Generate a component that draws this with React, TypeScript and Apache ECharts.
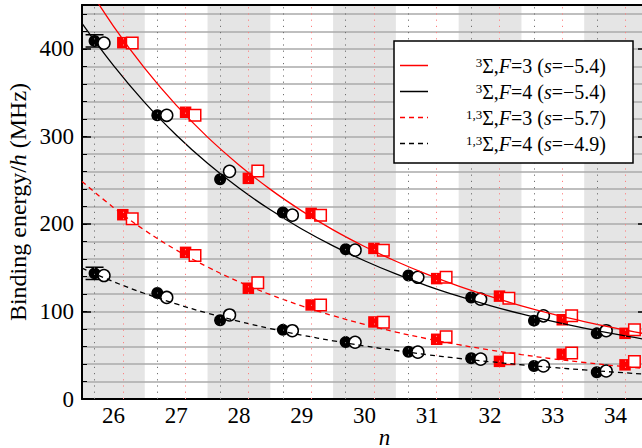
import React, { useEffect, useRef } from 'react';
import * as echarts from 'echarts';

// ---- data ----
const nValues = [26, 27, 28, 29, 30, 31, 32, 33, 34];

// 3Σ (upper group), binding energy / h in MHz
const tripletF4Filled = [409, 324, 251, 213, 171, 141, 116, 89.5, 75];
const tripletF4Open = [406.5, 324, 260, 210, 170, 139, 114, 95, 78];
const tripletF3Filled = [407, 327.5, 252, 212, 172, 137.5, 117.5, 90.5, 75];
const tripletF3Open = [406.5, 324, 260.5, 210, 170, 139, 115, 95, 79];

// 1,3Σ (lower group)
const mixedF4Filled = [143.5, 121, 90, 79, 65, 54, 46.5, 37.7, 30.5];
const mixedF4Open = [141, 116, 96, 78, 64.8, 53.5, 45.5, 37.7, 32];
const mixedF3Filled = [210.5, 167.5, 126.5, 107.4, 88, 68.2, 43, 51.2, 39];
const mixedF3Open = [206, 164, 132.8, 107.4, 87.6, 71.2, 46, 52.5, 42.7];

// marker positions relative to n
const offsetFilledCircle = -0.3;
const offsetOpenCircle = -0.15;
const offsetFilledSquare = 0.15;
const offsetOpenSquare = 0.3;

// fitted curves
const curveN = [25.5, 26, 26.5, 27, 27.5, 28, 28.5, 29, 29.5, 30, 30.5, 31, 31.5, 32, 32.5, 33, 33.5, 34, 34.5];
const fitTripletF3 = [481, 426, 377.6, 335.6, 299.1, 267.4, 239.4, 214.9, 193.2, 174.2, 157.3, 142.3, 128.9, 117.1, 106.5, 96.9, 88.5, 80.9, 74.0];
const fitTripletF4 = [429, 381, 338.5, 301.6, 269.2, 240.9, 216.1, 194.2, 174.9, 157.9, 142.8, 129.3, 117.4, 106.7, 97.1, 88.6, 80.9, 74.0, 67.8];
const fitMixedF3 = [248.5, 218.8, 192.7, 170.2, 150.8, 133.9, 119.2, 106.3, 95.1, 85.2, 76.5, 68.8, 62.0, 56.0, 50.7, 45.9, 41.7, 37.9, 34.5];
const fitMixedF4 = [149.5, 134.0, 120.5, 108.6, 98.0, 88.7, 80.4, 73.0, 66.5, 60.6, 55.4, 50.6, 46.4, 42.6, 39.1, 36.0, 33.2, 30.6, 28.3];

// error bars (on the filled circles at n = 26)
const errorBarN = [26, 26];
const errorBarLow = [402, 136.5];
const errorBarHigh = [416, 150.5];

const legendLabels = [
  '{sup|3}Σ,{i|F}=3 ({i|s}={m|−}5.4)',
  '{sup|3}Σ,{i|F}=4 ({i|s}={m|−}5.4)',
  '{sup|1,3}Σ,{i|F}=3 ({i|s}={m|−}5.7)',
  '{sup|1,3}Σ,{i|F}=4 ({i|s}={m|−}4.9)',
];

const FONT = "'Liberation Serif', 'Times New Roman', serif";
const RED = '#ff0000';

const zip = (xs: number[], ys: number[], off = 0) => xs.map((x, i) => [x + off, ys[i]]);

export default function App() {
  const ref = useRef<HTMLDivElement>(null);

  useEffect(() => {
    if (!ref.current) return;
    const chart = echarts.init(ref.current, undefined, { renderer: 'svg' });

    const curve = (name: string, ys: number[], color: string, dashed: boolean, extra: any = {}) => ({
      name,
      type: 'line',
      data: zip(curveN, ys),
      smooth: 0.4,
      symbol: 'none',
      showSymbol: false,
      lineStyle: { color, width: 1.3, type: dashed ? [5, 4] : 'solid' },
      silent: true,
      ...extra,
    });

    const scatter = (ys: number[], off: number, symbol: string, fill: string, border: string) => ({
      type: 'scatter',
      data: zip(nValues, ys, off),
      symbol,
      symbolSize: symbol === 'circle' ? 12 : 11.5,
      itemStyle: { color: fill, borderColor: border, borderWidth: fill === '#ffffff' ? 1.5 : 0, opacity: 1 },
      silent: true,
    });

    const legendRows = [
      { y: 65.5, color: RED, dashed: false },
      { y: 91.5, color: '#000', dashed: false },
      { y: 117.5, color: RED, dashed: true },
      { y: 143.5, color: '#000', dashed: true },
    ];

    const richLegend = {
      sup: { fontSize: 13, fontFamily: FONT, verticalAlign: 'top', fill: '#000', color: '#000' },
      i: { fontSize: 20, fontFamily: FONT, fontStyle: 'italic', fill: '#000', color: '#000' },
      m: { fontSize: 20, fontFamily: FONT, fill: '#000', color: '#000' },
    };

    const option: any = {
      animation: false,
      backgroundColor: '#ffffff',
      grid: { left: 82, top: 5, width: 565, height: 394, outerBoundsMode: 'none', containLabel: false },
      xAxis: [
        {
          type: 'value',
          position: 'bottom',
          min: 25.5,
          max: 34.5,
          splitNumber: 9,
          minInterval: 1,
          maxInterval: 1,
          axisLine: { show: true, onZero: false, lineStyle: { color: '#000', width: 2 } },
          axisTick: { show: false },
          axisLabel: {
            show: true,
            margin: 7.5,
            fontSize: 23,
            lineHeight: 18,
            fontFamily: FONT,
            color: '#000',
            formatter: (v: number) => (Number.isInteger(v) ? String(v) : ''),
          },
          splitLine: { show: false },
          name: 'n',
          nameLocation: 'middle',
          nameGap: 29,
          nameMoveOverlap: false,
          nameTextStyle: {
            fontSize: 23,
            lineHeight: 18,
            fontFamily: FONT,
            fontStyle: 'italic',
            color: '#000',
            padding: [0, 0, 0, 40],
          },
        },
        {
          type: 'value',
          position: 'top',
          min: 25.5,
          max: 34.5,
          axisLine: { show: true, onZero: false, lineStyle: { color: '#000', width: 2 } },
          axisTick: { show: false },
          axisLabel: { show: false },
          splitLine: { show: false },
        },
        {
          type: 'value',
          position: 'bottom',
          min: 25.5,
          max: 34.5,
          interval: 1,
          z: -1,
          axisLine: { show: false },
          axisTick: { show: false },
          axisLabel: { show: false },
          splitLine: { show: false },
          splitArea: { show: true, areaStyle: { color: ['#e5e5e5', 'rgba(255,255,255,0)'] } },
        },
      ],
      yAxis: [
        {
          type: 'value',
          position: 'left',
          min: 0,
          max: 450,
          interval: 20,
          axisLine: { show: true, onZero: false, lineStyle: { color: '#000', width: 2 } },
          axisTick: { show: true, inside: true, length: 5, lineStyle: { color: '#000', width: 1 } },
          axisLabel: { show: false },
          splitLine: { show: true, lineStyle: { color: '#aaaaaa', width: 1.5 } },
        },
        {
          type: 'value',
          position: 'left',
          min: 0,
          max: 450,
          interval: 100,
          axisLine: { show: false },
          axisTick: { show: true, inside: true, length: 9, lineStyle: { color: '#000', width: 1.5 } },
          axisLabel: {
            show: true,
            margin: 8,
            fontSize: 23,
            fontFamily: FONT,
            color: '#000',
            formatter: (v: number) => (v % 100 === 0 ? String(v) : ''),
          },
          splitLine: { show: false },
          name: 'Binding energy/{i|h} (MHz)',
          nameLocation: 'middle',
          nameRotate: 90,
          nameGap: 52,
          nameMoveOverlap: false,
          nameTextStyle: {
            fontSize: 24,
            fontFamily: FONT,
            color: '#000',
            rich: { i: { fontSize: 24, fontFamily: FONT, fontStyle: 'italic', color: '#000' } },
          },
        },
        {
          type: 'value',
          position: 'right',
          min: 0,
          max: 450,
          interval: 100,
          axisLine: { show: true, onZero: false, lineStyle: { color: '#000', width: 2 } },
          axisTick: { show: true, inside: true, length: 9, lineStyle: { color: '#000', width: 1.5 } },
          axisLabel: { show: false },
          splitLine: { show: false },
        },
      ],
      series: [
        curve('3Σ,F=3 (s=−5.4)', fitTripletF3, RED, false, {
          markLine: {
            silent: true,
            symbol: ['none', 'none'],
            label: { show: false },
            lineStyle: { color: '#707070', width: 1, type: [1.2, 5] },
            data: nValues.map((n) => ({ xAxis: n + offsetFilledCircle })),
          },
        }),
        curve('3Σ,F=4 (s=−5.4)', fitTripletF4, '#000', false, {
          markLine: {
            silent: true,
            symbol: ['none', 'none'],
            label: { show: false },
            lineStyle: { color: '#ff8080', width: 1, type: [1.2, 5] },
            data: nValues.map((n) => ({ xAxis: n + offsetFilledSquare })),
          },
        }),
        curve('1,3Σ,F=3 (s=−5.7)', fitMixedF3, RED, true),
        curve('1,3Σ,F=4 (s=−4.9)', fitMixedF4, '#000', true),
        {
          type: 'custom',
          silent: true,
          data: errorBarN.map((n, i) => [n + offsetFilledCircle, errorBarLow[i], errorBarHigh[i]]),
          encode: { x: 0, y: [1, 2] },
          renderItem: (params: any, api: any) => {
            const top = api.coord([api.value(0), api.value(2)]);
            const bot = api.coord([api.value(0), api.value(1)]);
            const style = { stroke: '#000', lineWidth: 1.5 };
            return {
              type: 'group',
              children: [
                { type: 'line', shape: { x1: top[0], y1: top[1], x2: bot[0], y2: bot[1] }, style },
                { type: 'line', shape: { x1: top[0] - 9, y1: top[1], x2: top[0] + 9, y2: top[1] }, style },
                { type: 'line', shape: { x1: bot[0] - 9, y1: bot[1], x2: bot[0] + 9, y2: bot[1] }, style },
              ],
            };
          },
        },
        scatter(tripletF4Filled, offsetFilledCircle, 'circle', '#000000', '#000000'),
        scatter(mixedF4Filled, offsetFilledCircle, 'circle', '#000000', '#000000'),
        scatter(tripletF4Open, offsetOpenCircle, 'circle', '#ffffff', '#000000'),
        scatter(mixedF4Open, offsetOpenCircle, 'circle', '#ffffff', '#000000'),
        scatter(tripletF3Filled, offsetFilledSquare, 'rect', RED, RED),
        scatter(mixedF3Filled, offsetFilledSquare, 'rect', RED, RED),
        scatter(tripletF3Open, offsetOpenSquare, 'rect', '#ffffff', RED),
        scatter(mixedF3Open, offsetOpenSquare, 'rect', '#ffffff', RED),
      ],
      graphic: [
        {
          type: 'group',
          z: 100,
          children: [
            {
              type: 'rect',
              z: 100,
              shape: { x: 394, y: 41, width: 239, height: 122 },
              style: { fill: '#ffffff', stroke: '#000000', lineWidth: 1.5 },
            },
            ...legendRows.map((r) => ({
              type: 'line',
              z: 101,
              shape: { x1: 400, y1: r.y, x2: 428, y2: r.y },
              style: { stroke: r.color, lineWidth: 1.5, lineDash: r.dashed ? [5, 4] : null },
            })),
            ...legendRows.map((r, i) => ({
              type: 'text',
              z: 101,
              x: 606,
              y: r.y,
              style: {
                text: legendLabels[i],
                rich: richLegend,
                fontSize: 20,
                fontFamily: FONT,
                fill: '#000',
                align: 'right',
                verticalAlign: 'middle',
                textAlign: 'right',
                textVerticalAlign: 'middle',
              },
            })),
          ],
        },
      ],
    };

    chart.setOption(option);
    return () => chart.dispose();
  }, []);

  return (
    <div
      ref={ref}
      style={{ position: 'absolute', left: 0, top: 0, width: 642, height: 448, background: '#fff' }}
    />
  );
}
